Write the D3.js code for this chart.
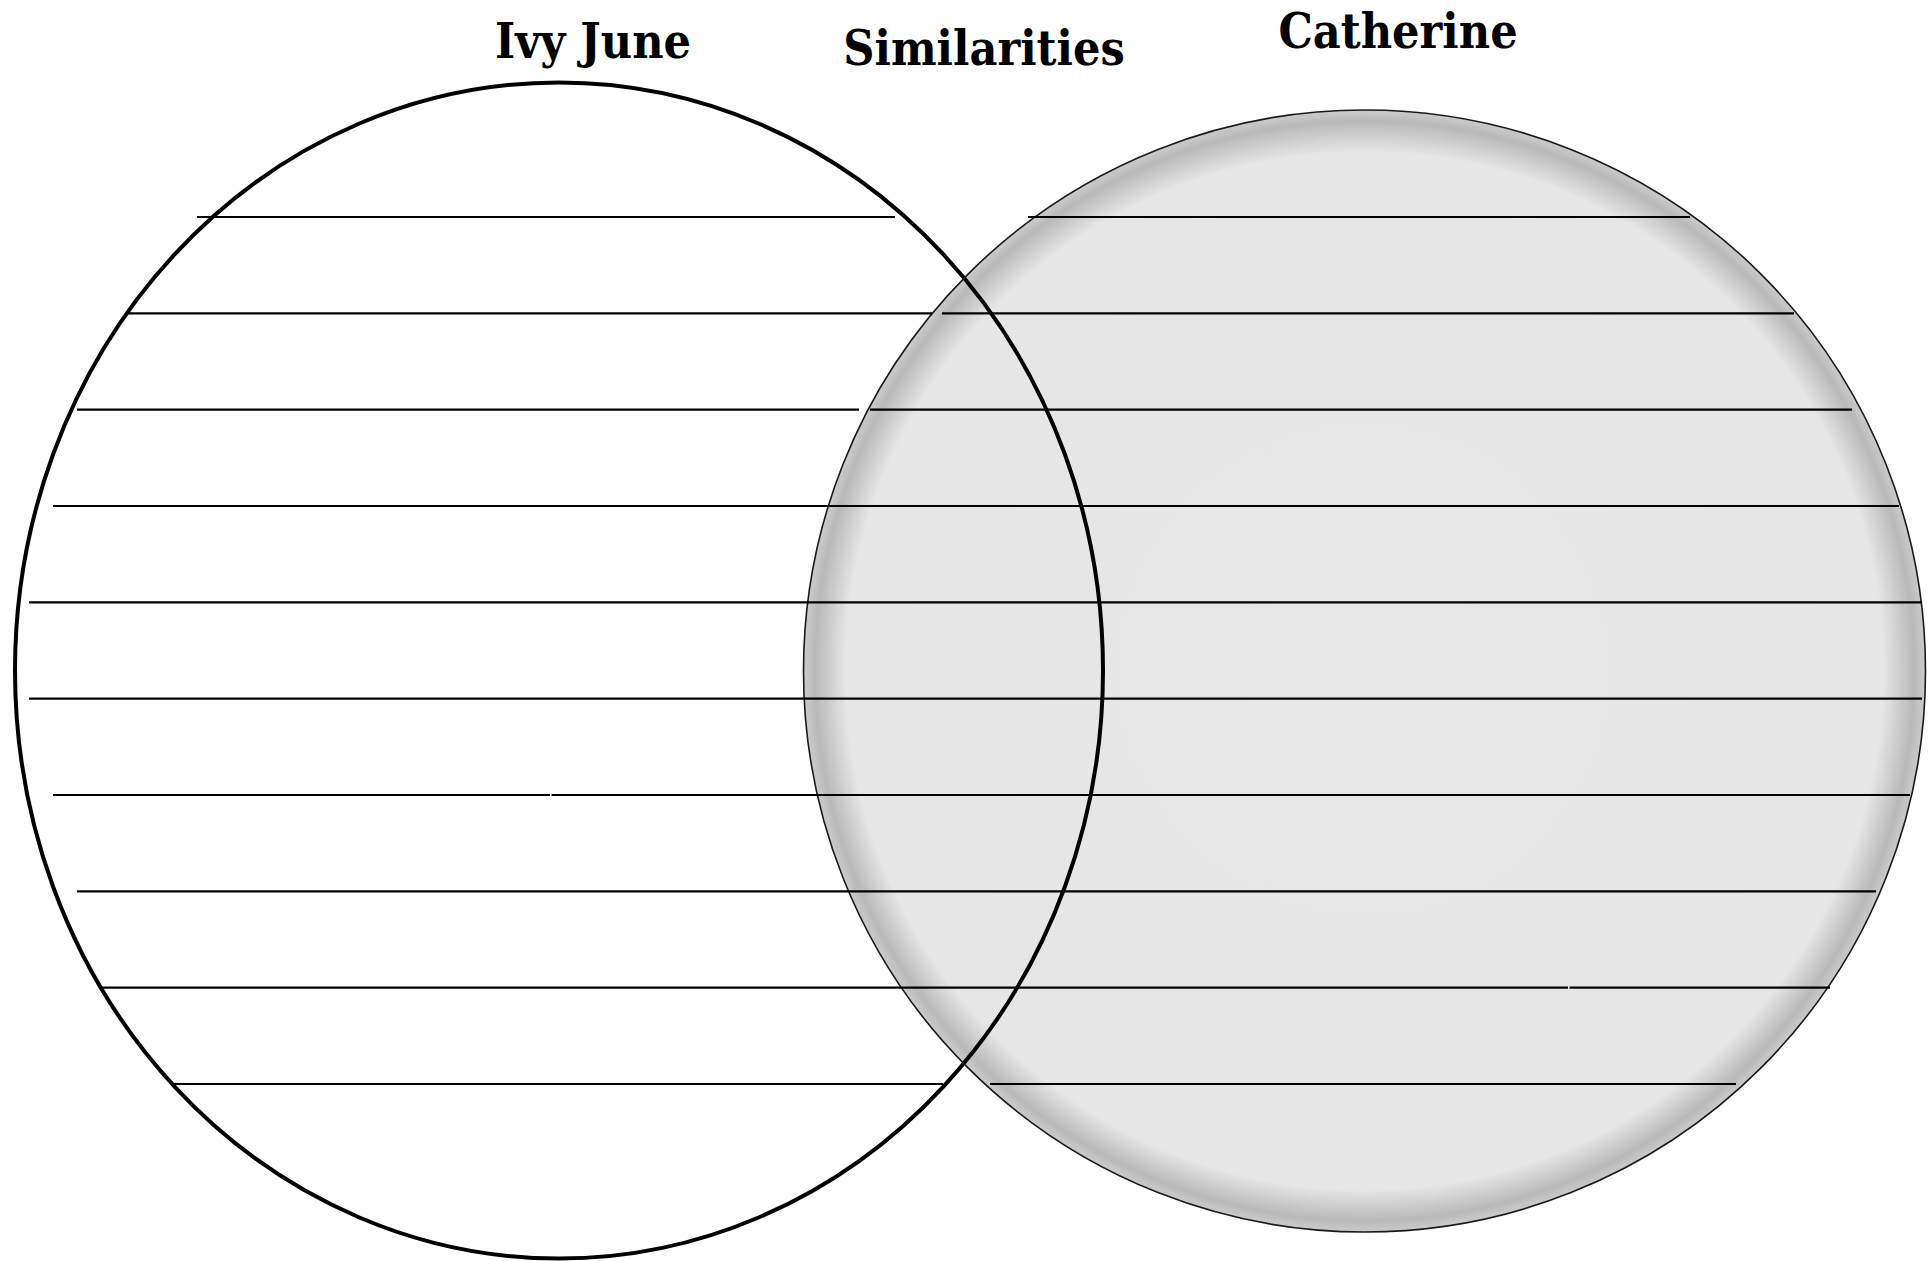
<!DOCTYPE html>
<html>
<head>
<meta charset="utf-8">
<script src="https://cdn.jsdelivr.net/npm/d3@7"></script>
<style>
  html, body { margin: 0; padding: 0; background: #fff; }
  .title { font-family: 'DejaVu Serif Condensed', 'DejaVu Serif', serif; font-stretch: condensed; font-weight: bold; fill: #000; }
</style>
</head>
<body>
<div id="chart"></div>
<script>
// headings over the two sets and the overlap
var titles = ['Ivy June', 'Similarities', 'Catherine'];
var titleX = [593, 984, 1398];
var titleBaseline = [58, 65, 48];

// the two sets (page units)
var setNames = ['Ivy June', 'Catherine'];
var setCx = [559, 1364.5];
var setCy = [670.5, 671];
var setRx = [544, 561];
var setRy = [588, 561];

// writing lines: one entry per row, each a list of [start, end] segments
var rowCount = 10;
var rowSegments = [
    [[197, 895], [1028, 1690]],
    [[128, 932], [942, 1794]],
    [[77, 859], [870, 1852]],
    [[53, 1899]],
    [[29, 1922]],
    [[29, 1922]],
    [[53, 550], [551.5, 1910]],
    [[77, 1876]],
    [[102, 1568], [1569.5, 1830]],
    [[173, 943], [990, 1736]]
];

var width = 1931, height = 1261;

var x = d3.scaleLinear().domain([0, 1931]).range([0, width]);
var y = d3.scaleLinear().domain([0, 1261]).range([0, height]);
var row = d3.scaleLinear().domain([0, rowCount - 1]).range([y(217), y(1084)]);

var svg = d3.select('#chart').append('svg')
    .attr('width', width)
    .attr('height', height)
    .style('display', 'block');

var defs = svg.append('defs');
var grad = defs.append('radialGradient')
    .attr('id', 'shade')
    .attr('cx', '50%').attr('cy', '50%').attr('r', '50%');
grad.append('stop').attr('offset', '0').attr('stop-color', '#e7e7e7');
grad.append('stop').attr('offset', '0.925').attr('stop-color', '#e6e6e6');
grad.append('stop').attr('offset', '0.98').attr('stop-color', '#b9b9b9');
grad.append('stop').attr('offset', '1').attr('stop-color', '#cbcbcb');

var sets = setNames.map(function(name, i) {
    return { name: name, cx: setCx[i], cy: setCy[i], rx: setRx[i], ry: setRy[i] };
});

function place(sel) {
    sel.attr('cx', function(d) { return x(d.cx); })
        .attr('cy', function(d) { return y(d.cy); })
        .attr('rx', function(d) { return x(d.rx) - x(0); })
        .attr('ry', function(d) { return y(d.ry) - y(0); });
}

// shaded set underneath
svg.append('ellipse')
    .datum(sets[1])
    .call(place)
    .attr('fill', 'url(#shade)');

// outlines
svg.append('ellipse')
    .datum(sets[0])
    .call(place)
    .attr('fill', 'none')
    .attr('stroke', '#000')
    .attr('stroke-width', 4);

svg.append('ellipse')
    .datum(sets[1])
    .call(place)
    .attr('fill', 'none')
    .attr('stroke', '#1a1a1a')
    .attr('stroke-width', 1.6);

// writing lines
var segs = [];
rowSegments.forEach(function(list, i) {
    list.forEach(function(s) { segs.push({ row: i, x0: s[0], x1: s[1] }); });
});

svg.append('g').selectAll('line')
    .data(segs)
    .enter()
    .append('line')
    .attr('x1', function(d) { return x(d.x0); })
    .attr('x2', function(d) { return x(d.x1); })
    .attr('y1', function(d) { return row(d.row); })
    .attr('y2', function(d) { return row(d.row); })
    .attr('stroke', '#000')
    .attr('stroke-width', 2.2);

// headings
svg.append('g').selectAll('text')
    .data(titles)
    .enter()
    .append('text')
    .attr('class', 'title')
    .attr('x', function(d, i) { return x(titleX[i]); })
    .attr('y', function(d, i) { return y(titleBaseline[i]); })
    .attr('text-anchor', 'middle')
    .style('font-size', '48px')
    .text(function(d) { return d; });
</script>
</body>
</html>
